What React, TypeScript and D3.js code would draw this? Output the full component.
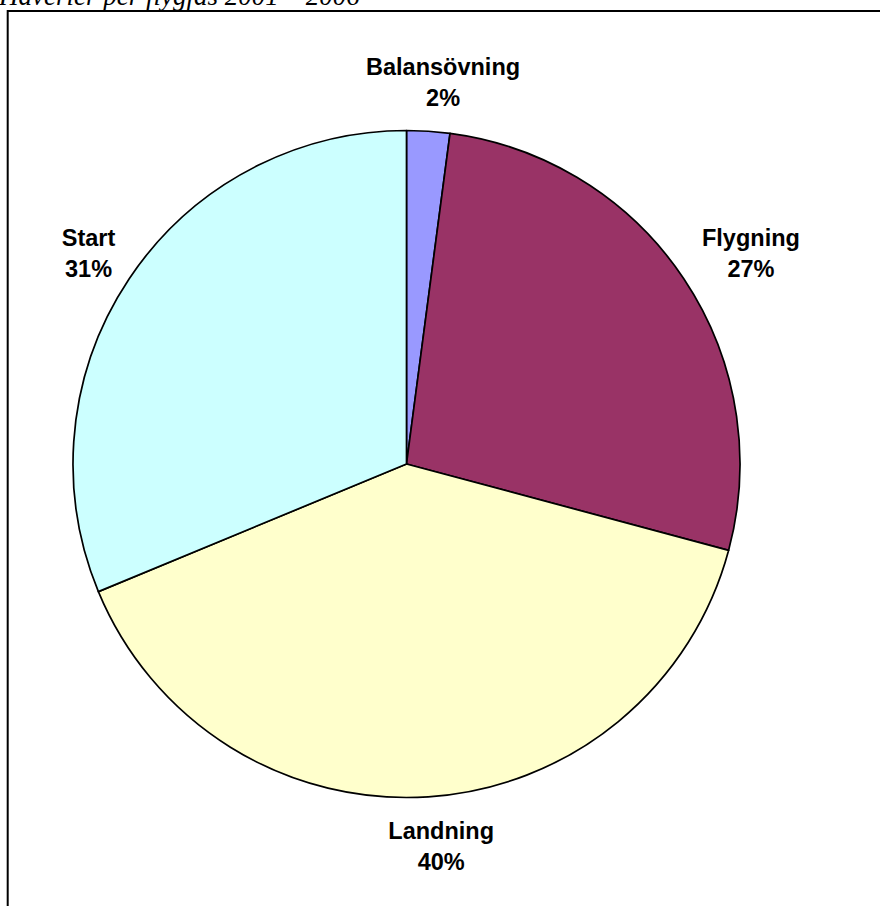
import React from "react";
import * as d3 from "d3";

const categories = ["Balansövning", "Flygning", "Landning", "Start"];
const counts = [1, 13, 19, 15];
const colors = ["#9999FF", "#993366", "#FFFFCC", "#CCFFFF"];
const title = "Haverier per flygfas 2001 – 2006";

const W = 880;
const H = 906;

export default function App() {
  const cx = 406.5;
  const cy = 464;
  const R = 333.5;
  const fontSize = 23.5;
  const total = d3.sum(counts);
  const data = categories.map((c, i) => ({ name: c, value: counts[i], color: colors[i] }));
  const pie = d3.pie<any>().sort(null).value((d: any) => d.value)(data);
  const arc = d3.arc<any>().innerRadius(0).outerRadius(R);

  return (
    <svg
      width={W}
      height={H}
      style={{ position: "absolute", left: 0, top: 0, display: "block", background: "#fff" }}
    >
      <text
        x={-1}
        y={5}
        fontFamily="'Liberation Serif', 'Times New Roman', serif"
        fontStyle="italic"
        fontSize={27}
        fill="#000"
      >
        {title}
      </text>
      <rect x={7.7} y={11} width={W + 20} height={H + 20} fill="none" stroke="#000" strokeWidth={2} />
      <g transform={`translate(${cx},${cy})`}>
        {pie.map((p, i) => (
          <path key={i} d={arc(p) as string} fill={p.data.color} stroke="#000" strokeWidth={1.7} strokeLinejoin="round" />
        ))}
      </g>
      {pie.map((p, i) => {
        const a = (p.startAngle + p.endAngle) / 2;
        const rl = R + 49;
        const estHalfW = (p.data.name.length * 0.6 * fontSize) / 2;
        const extra = Math.max(0, estHalfW - 30) * Math.sin(a) + 8 * Math.abs(Math.cos(a));
        const x = cx + Math.sin(a) * rl + extra;
        const y = cy - Math.cos(a) * rl + 2 * Math.abs(Math.sin(a));
        const pct = Math.round((p.data.value / total) * 100) + "%";
        return (
          <text
            key={i}
            x={x}
            textAnchor="middle"
            fontFamily="'Liberation Sans', Arial, sans-serif"
            fontWeight="bold"
            fontSize={fontSize}
            fill="#000"
          >
            <tspan x={x} y={y - 7}>{p.data.name}</tspan>
            <tspan x={x} y={y + 24}>{pct}</tspan>
          </text>
        );
      })}
    </svg>
  );
}
